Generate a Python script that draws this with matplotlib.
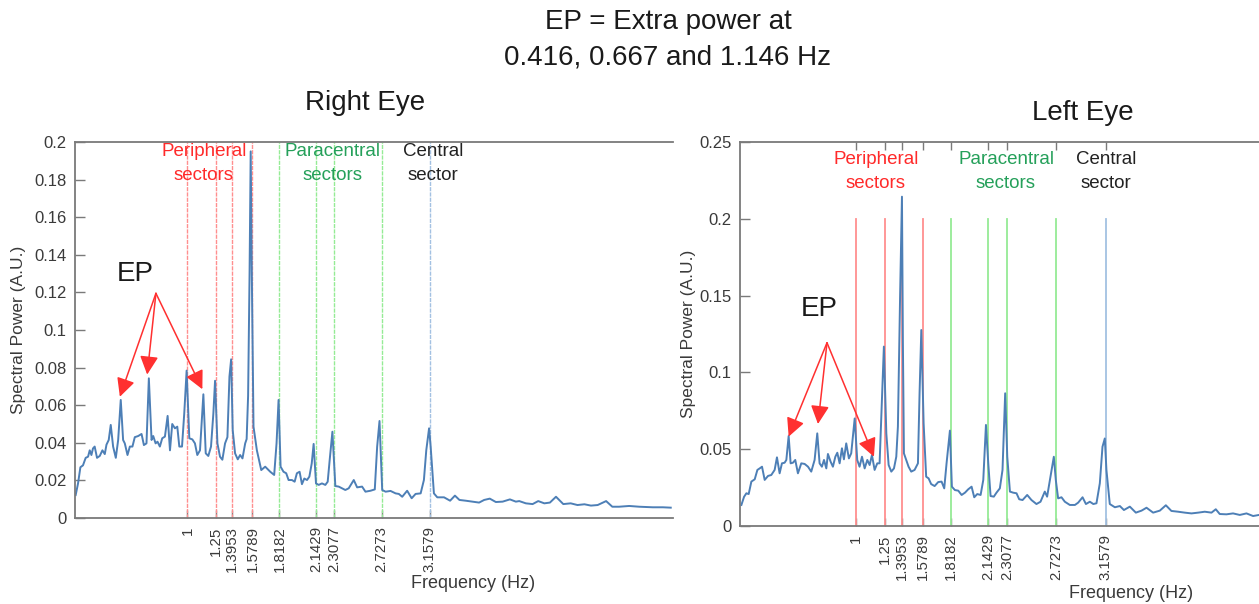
import matplotlib
matplotlib.use("Agg")
import matplotlib.pyplot as plt

plt.rcParams['font.family'] = ['Liberation Sans', 'DejaVu Sans']

# ---------------- data ----------------
right_eye_freq = [0.006, 0.027, 0.048, 0.071, 0.095, 0.116, 0.131, 0.146, 0.16, 0.175, 0.196, 0.22,
                  0.244, 0.265, 0.28, 0.30, 0.318, 0.339, 0.363, 0.384, 0.407, 0.428, 0.443, 0.467,
                  0.488, 0.511, 0.532, 0.562, 0.592, 0.613, 0.636, 0.657, 0.681, 0.696, 0.717, 0.734,
                  0.755, 0.776, 0.80, 0.824, 0.845, 0.865, 0.889, 0.91, 0.928, 0.952, 0.972, 0.993,
                  1.017, 1.044, 1.067, 1.088, 1.112, 1.142, 1.163, 1.186, 1.21, 1.231, 1.246, 1.267,
                  1.29, 1.311, 1.335, 1.356, 1.374, 1.389, 1.403, 1.424, 1.448, 1.469, 1.49, 1.514,
                  1.527, 1.540, 1.553, 1.563, 1.573, 1.588, 1.618, 1.657, 1.692, 1.737, 1.772, 1.793,
                  1.811, 1.829, 1.855, 1.879, 1.90, 1.93, 1.954, 1.974, 1.998, 2.019, 2.04, 2.064,
                  2.085, 2.106, 2.123, 2.144, 2.168, 2.197, 2.227, 2.248, 2.266, 2.29, 2.316, 2.346,
                  2.376, 2.405, 2.435, 2.48, 2.51, 2.554, 2.584, 2.629, 2.667, 2.688, 2.709, 2.733,
                  2.763, 2.807, 2.852, 2.881, 2.911, 2.955, 2.995, 3.03, 3.075, 3.104, 3.125, 3.15,
                  3.164, 3.193, 3.223, 3.283, 3.337, 3.38, 3.42, 3.476, 3.535, 3.595, 3.64, 3.69,
                  3.744, 3.804, 3.869, 3.922, 3.952, 4.011, 4.071, 4.121, 4.175, 4.225, 4.279, 4.344,
                  4.41, 4.47, 4.532, 4.59, 4.65, 4.725, 4.78, 4.84, 4.93, 5.02, 5.14, 5.23, 5.30]
right_eye_power = [0.0122, 0.0184, 0.027, 0.028, 0.032, 0.0326, 0.036, 0.0335, 0.037, 0.038, 0.032, 0.033,
                   0.036, 0.034, 0.039, 0.0415, 0.0495, 0.038, 0.032, 0.0415, 0.0628, 0.0415, 0.0397, 0.0335,
                   0.038, 0.038, 0.043, 0.0436, 0.0447, 0.0388, 0.0397, 0.0743, 0.0415, 0.0436, 0.0397, 0.0406,
                   0.038, 0.0424, 0.0433, 0.0543, 0.036, 0.050, 0.0477, 0.0486, 0.038, 0.038, 0.0557, 0.0784,
                   0.0424, 0.0418, 0.0397, 0.0335, 0.036, 0.0658, 0.0344, 0.033, 0.038, 0.0557, 0.073, 0.0397,
                   0.0326, 0.031, 0.0397, 0.043, 0.0752, 0.0844, 0.0468, 0.0344, 0.0312, 0.0335, 0.0317, 0.0397,
                   0.042, 0.065, 0.13, 0.195, 0.13, 0.0486, 0.036, 0.0255, 0.0273, 0.0246, 0.0229, 0.0397,
                   0.0628, 0.0273, 0.0246, 0.0238, 0.0202, 0.0202, 0.0193, 0.0238, 0.0246, 0.018, 0.021, 0.0202,
                   0.022, 0.029, 0.0394, 0.0184, 0.0176, 0.0184, 0.0176, 0.0193, 0.031, 0.0459, 0.017, 0.0167,
                   0.0158, 0.0149, 0.0158, 0.0202, 0.0163, 0.0167, 0.014, 0.0145, 0.0152, 0.0379, 0.0516, 0.0149,
                   0.014, 0.0144, 0.0131, 0.0128, 0.0113, 0.0145, 0.0105, 0.0128, 0.0131, 0.0202, 0.036, 0.0477,
                   0.038, 0.0131, 0.011, 0.011, 0.0092, 0.0119, 0.0096, 0.0092, 0.0087, 0.0082, 0.0096, 0.0103,
                   0.0085, 0.0087, 0.0099, 0.0087, 0.009, 0.0078, 0.0074, 0.009, 0.0078, 0.0082, 0.0113, 0.0074,
                   0.0078, 0.0069, 0.0073, 0.0066, 0.0069, 0.009, 0.006, 0.006, 0.0064, 0.006, 0.0057, 0.0057, 0.0055]

left_eye_freq = [0.012, 0.035, 0.055, 0.075, 0.098, 0.127, 0.15, 0.17, 0.19, 0.213, 0.242, 0.27,
                 0.299, 0.319, 0.342, 0.362, 0.385, 0.40, 0.42, 0.437, 0.457, 0.477, 0.50, 0.529,
                 0.558, 0.587, 0.615, 0.644, 0.667, 0.687, 0.707, 0.725, 0.745, 0.759, 0.782, 0.802,
                 0.823, 0.84, 0.86, 0.88, 0.897, 0.917, 0.94, 0.96, 0.99, 1.012, 1.032, 1.053,
                 1.076, 1.099, 1.119, 1.139, 1.162, 1.185, 1.205, 1.225, 1.242, 1.263, 1.283, 1.306,
                 1.329, 1.349, 1.363, 1.382, 1.398, 1.406, 1.415, 1.435, 1.455, 1.478, 1.507, 1.536,
                 1.55, 1.565, 1.585, 1.607, 1.628, 1.65, 1.68, 1.711, 1.74, 1.763, 1.783, 1.812,
                 1.829, 1.855, 1.884, 1.913, 1.942, 1.97, 1.999, 2.022, 2.048, 2.077, 2.10, 2.123,
                 2.143, 2.163, 2.191, 2.214, 2.243, 2.266, 2.289, 2.307, 2.33, 2.358, 2.387, 2.41,
                 2.439, 2.479, 2.516, 2.559, 2.594, 2.631, 2.651, 2.675, 2.709, 2.726, 2.746, 2.775,
                 2.804, 2.847, 2.891, 2.919, 2.957, 2.986, 3.02, 3.05, 3.077, 3.106, 3.129, 3.149,
                 3.163, 3.192, 3.236, 3.279, 3.314, 3.365, 3.417, 3.466, 3.509, 3.566, 3.624, 3.676,
                 3.724, 3.782, 3.839, 3.897, 3.955, 4.012, 4.07, 4.107, 4.141, 4.199, 4.256, 4.314,
                 4.372, 4.429, 4.481]
left_eye_power = [0.0137, 0.019, 0.0213, 0.0208, 0.0289, 0.0304, 0.0365, 0.0375, 0.0386, 0.030, 0.0326, 0.0332,
                  0.0365, 0.0447, 0.0343, 0.0408, 0.0412, 0.043, 0.0586, 0.0408, 0.0412, 0.043, 0.0343, 0.0408,
                  0.0404, 0.0386, 0.0354, 0.043, 0.0603, 0.0408, 0.0386, 0.043, 0.0375, 0.0469, 0.0419, 0.0386,
                  0.0451, 0.0477, 0.0408, 0.0506, 0.0434, 0.0538, 0.044, 0.0473, 0.0700, 0.043, 0.0386, 0.0451,
                  0.0375, 0.043, 0.0397, 0.0462, 0.0365, 0.0408, 0.0408, 0.082, 0.1168, 0.0603, 0.0397, 0.0354,
                  0.0375, 0.0451, 0.0647, 0.150, 0.2144, 0.12, 0.0473, 0.043, 0.0386, 0.0354, 0.0365, 0.0408,
                  0.0864, 0.1276, 0.0668, 0.0321, 0.031, 0.0273, 0.026, 0.0286, 0.0289, 0.0245, 0.0408, 0.0621,
                  0.0256, 0.0234, 0.023, 0.0202, 0.0217, 0.0239, 0.0256, 0.0187, 0.0208, 0.0202, 0.030, 0.0658,
                  0.0408, 0.0195, 0.0191, 0.0217, 0.0245, 0.0365, 0.0864, 0.0451, 0.0224, 0.0217, 0.0213, 0.0174,
                  0.0169, 0.0202, 0.0169, 0.0143, 0.0158, 0.0224, 0.0191, 0.030, 0.0451, 0.030, 0.018, 0.0187,
                  0.0158, 0.0137, 0.0137, 0.0152, 0.0187, 0.0143, 0.0158, 0.0143, 0.0148, 0.0278, 0.0516, 0.057,
                  0.0365, 0.0143, 0.0122, 0.013, 0.0104, 0.0126, 0.0087, 0.010, 0.0119, 0.0087, 0.010, 0.0135,
                  0.0098, 0.0093, 0.0087, 0.0082, 0.0087, 0.0093, 0.0087, 0.0109, 0.0078, 0.0076, 0.0082, 0.0072,
                  0.0082, 0.0065, 0.0072]

peripheral_freqs = [1.0, 1.25, 1.3953, 1.5789]
paracentral_freqs = [1.8182, 2.1429, 2.3077, 2.7273]
central_freqs = [3.1579]
xtick_labels = ['1', '1.25', '1.3953', '1.5789', '1.8182', '2.1429', '2.3077', '2.7273', '3.1579']

right_yticks = [0, 0.02, 0.04, 0.06, 0.08, 0.1, 0.12, 0.14, 0.16, 0.18, 0.2]
right_yticklabels = ['0', '0.02', '0.04', '0.06', '0.08', '0.1', '0.12', '0.14', '0.16', '0.18', '0.2']
left_yticks = [0, 0.05, 0.1, 0.15, 0.2, 0.25]
left_yticklabels = ['0', '0.05', '0.1', '0.15', '0.2', '0.25']

ep_right_targets = [(0.399, 0.0645), (0.642, 0.0763), (1.133, 0.0685)]
ep_left_targets = [(0.42, 0.0582), (0.673, 0.0664), (1.156, 0.0451)]

# ---------------- figure ----------------
W, H = 1259, 604
fig = plt.figure(figsize=(W / 100, H / 100), dpi=100)

def px(x, y):
    return x / W, 1 - y / H

ax1 = fig.add_axes([75 / W, 1 - 518 / H, (673 - 75) / W, (518 - 142) / H])
ax2 = fig.add_axes([740 / W, 1 - 526 / H, (1259 - 740) / W, (526 - 142) / H])

LINE = '#4d7fb6'
RED_L = '#ff8f8f'
GREEN_L = '#95eb95'
BLUE_L = '#a3c1e2'
SPINE = '#7a7a7a'
TXT = '#3a3a3a'
all_freqs = peripheral_freqs + paracentral_freqs + central_freqs


def style_axes(ax, ymax, yticks, yticklabels, xmax, top_ticks):
    ax.set_xlim(0, xmax)
    ax.set_ylim(0, ymax)
    for s in ['left', 'bottom', 'top']:
        ax.spines[s].set_color(SPINE)
        ax.spines[s].set_linewidth(1.3)
    ax.spines['right'].set_visible(False)
    ax.set_yticks(yticks)
    ax.set_yticklabels(yticklabels)
    ax.set_xticks(all_freqs)
    ax.set_xticklabels(xtick_labels, rotation=90)
    ax.tick_params(axis='y', direction='in', length=7, width=1, color=SPINE,
                   labelsize=12, labelcolor=TXT, pad=6, right=False)
    ax.tick_params(axis='x', direction='in', length=6, width=1, color=SPINE,
                   labelsize=10.8, labelcolor=TXT, pad=6, top=top_ticks)


# Right eye (left panel)
for f in peripheral_freqs:
    ax1.axvline(f, color=RED_L, lw=1.0, ls=(0, (3, 0.8)))
for f in paracentral_freqs:
    ax1.axvline(f, color=GREEN_L, lw=1.0, ls=(0, (3, 0.8)))
for f in central_freqs:
    ax1.axvline(f, color=BLUE_L, lw=1.0, ls=(0, (3, 0.8)))
ax1.plot(right_eye_freq, right_eye_power, color=LINE, lw=1.4)
style_axes(ax1, 0.2, right_yticks, right_yticklabels, 5.32, False)

# Left eye (right panel)
for f in peripheral_freqs:
    ax2.plot([f, f], [0, 0.2], color=RED_L, lw=1.3)
for f in paracentral_freqs:
    ax2.plot([f, f], [0, 0.2], color=GREEN_L, lw=1.3)
for f in central_freqs:
    ax2.plot([f, f], [0, 0.2], color=BLUE_L, lw=1.3)
ax2.plot(left_eye_freq, left_eye_power, color=LINE, lw=1.4)
style_axes(ax2, 0.25, left_yticks, left_yticklabels, 4.48, True)

# sector labels
def sector_labels(ax_centers, y1, y2):
    (xp, xpa, xc) = ax_centers
    fig.text(*px(xp, y1), 'Peripheral', color='#ff2a2a', fontsize=13.5, ha='center', va='center')
    fig.text(*px(xp, y2), 'sectors', color='#ff2a2a', fontsize=13.5, ha='center', va='center')
    fig.text(*px(xpa, y1), 'Paracentral', color='#25a05a', fontsize=13.5, ha='center', va='center')
    fig.text(*px(xpa, y2), 'sectors', color='#25a05a', fontsize=13.5, ha='center', va='center')
    fig.text(*px(xc, y1), 'Central', color='#222222', fontsize=13.5, ha='center', va='center')
    fig.text(*px(xc, y2), 'sector', color='#222222', fontsize=13.5, ha='center', va='center')

sector_labels((204, 333, 433), 152, 175)
sector_labels((876, 1006, 1106), 160, 183)

# EP annotations
ARROW = dict(arrowstyle='-|>,head_length=0.7,head_width=0.35', color='#ff3030', lw=1.1,
             mutation_scale=16, shrinkA=0, shrinkB=0)
ax1.text(0.532, 0.130, 'EP', fontsize=20, color='#1a1a1a', ha='center', va='center')
for t in ep_right_targets:
    ax1.annotate('', xy=t, xytext=(0.72, 0.1195), arrowprops=ARROW)
ax2.text(0.682, 0.141, 'EP', fontsize=20, color='#1a1a1a', ha='center', va='center')
for t in ep_left_targets:
    ax2.annotate('', xy=t, xytext=(0.751, 0.1193), arrowprops=ARROW)

# axis labels
fig.text(*px(19, 330), 'Spectral Power (A.U.)', rotation=90, fontsize=12.5, color=TXT,
         ha='center', va='center')
fig.text(*px(689, 334), 'Spectral Power (A.U.)', rotation=90, fontsize=12.5, color=TXT,
         ha='center', va='center')
fig.text(*px(473, 583), 'Frequency (Hz)', fontsize=13, color=TXT, ha='center', va='center')
fig.text(*px(1131, 594), 'Frequency (Hz)', fontsize=13, color=TXT, ha='center', va='center')

# titles
fig.text(*px(668, 22), 'EP = Extra power at', fontsize=20, color='#1a1a1a', ha='center', va='center')
fig.text(*px(668, 58), '0.416, 0.667 and 1.146 Hz', fontsize=20, color='#1a1a1a', ha='center', va='center')
fig.text(*px(365, 103), 'Right Eye', fontsize=20, color='#1a1a1a', ha='center', va='center')
fig.text(*px(1083, 113), 'Left Eye', fontsize=20, color='#1a1a1a', ha='center', va='center')

fig.savefig('out.png', dpi=100)
